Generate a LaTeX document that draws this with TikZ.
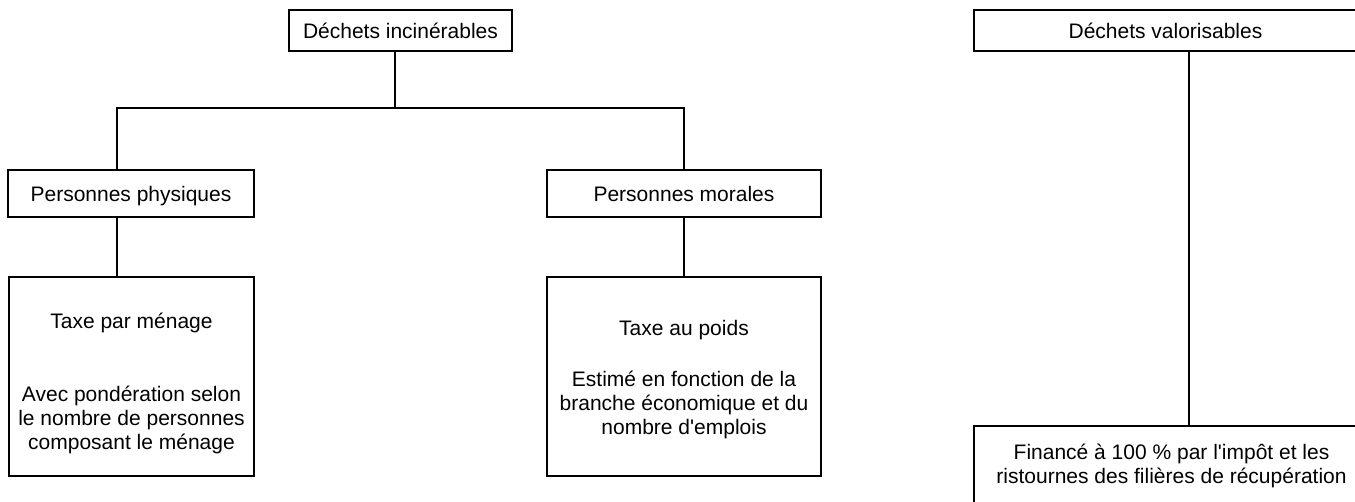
\documentclass[tikz,border=0pt]{standalone}
\usepackage{fontspec}
\setmainfont{Liberation Sans}
\usepackage{tikz}
\tikzstyle{boite}=[draw, line width=1pt, rectangle, align=center, inner sep=0pt, font=\fontsize{10.5}{12}\selectfont]
\tikzstyle{lien}=[line width=1pt]

\begin{document}
\begin{tikzpicture}[x=0.5pt, y=-0.5pt]

\path[use as bounding box, clip] (0,0) rectangle (1355,502);

% dechets incinerables
\node[boite, minimum width=111.5pt, minimum height=20.5pt] (inc) at (400.5, 30.5) {Déchets incinérables};

\node[boite, minimum width=123pt, minimum height=23.5pt, text depth=0pt] (pp) at (131, 193.5) {Personnes physiques};
\node[boite, minimum width=137pt, minimum height=23.5pt, text depth=0pt] (pm) at (684, 193.5) {Personnes morales};

\node[boite, minimum width=122.5pt, minimum height=99.5pt] (menage) at (131.5, 376.5) {\rule{0pt}{15pt}Taxe par ménage\\[24.5pt]Avec pondération selon\\le nombre de personnes\\composant le ménage};
\node[boite, minimum width=137pt, minimum height=99.5pt] (poids) at (684, 376.5) {\rule{0pt}{11pt}Taxe au poids\\[13.5pt]Estimé en fonction de la\\branche économique et du\\nombre d\textquotesingle emplois};

% dechets valorisables
\node[boite, minimum width=191.5pt, minimum height=20.5pt] (val) at (1165.5, 30.5) {Déchets valorisables};
\node[boite, minimum width=197.5pt, inner ysep=9pt, anchor=north] (impot) at (1171.5, 425) {Financé à 100 \% par l\textquotesingle impôt et les\\ristournes des filières de récupération};

\coordinate (bus) at (395, 108);

\draw[lien] ([xshift=-2.75pt]inc.south) -- (bus);
\draw[lien] ([xshift=-7pt]pp.north) |- (bus) -| (pm.north);
\draw[lien] ([xshift=-7pt]pp.south) -- ([xshift=-7pt]pp.south |- menage.north);
\draw[lien] (pm.south) -- (poids.north);
\draw[lien] ([xshift=11.75pt]val.south) -- ([xshift=11.75pt]val.south |- impot.north);

\end{tikzpicture}
\end{document}
